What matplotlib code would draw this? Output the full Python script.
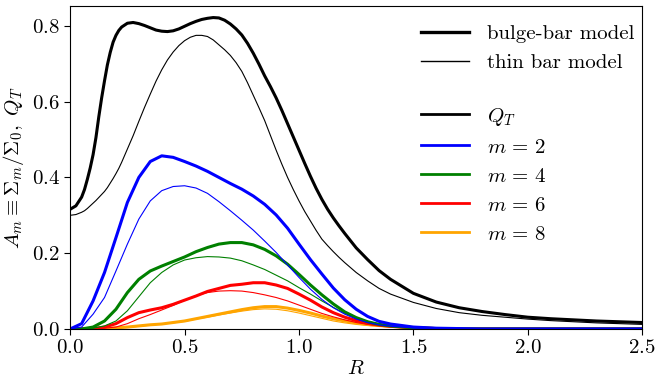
import matplotlib
matplotlib.use("Agg")
import matplotlib.pyplot as plt
from matplotlib.lines import Line2D

plt.rcParams.update({
    "font.family": "serif",
    "font.serif": ["cmr10", "DejaVu Serif"],
    "mathtext.fontset": "cm",
    "axes.formatter.use_mathtext": True,
    "axes.unicode_minus": False,
    "font.size": 15,
})

# ---- data ----
R_q = [0.0, 0.025, 0.05, 0.0625, 0.075, 0.0875, 0.1, 0.1125, 0.125, 0.1375, 0.15, 0.1625,
       0.175, 0.1875, 0.2, 0.2125, 0.225, 0.25, 0.275,
       0.3, 0.325, 0.35, 0.375, 0.4, 0.425, 0.45, 0.475, 0.5, 0.525, 0.55, 0.575, 0.6, 0.625,
       0.65, 0.675, 0.7, 0.725, 0.75, 0.775, 0.8, 0.825, 0.85, 0.875, 0.9, 0.925, 0.95, 0.975,
       1.0, 1.025, 1.05, 1.075, 1.1, 1.125, 1.15, 1.175, 1.2, 1.25, 1.3, 1.35, 1.4, 1.5, 1.6,
       1.7, 1.8, 1.9, 2.0, 2.1, 2.2, 2.3, 2.4, 2.5]
QT_bulge = [0.316, 0.325, 0.348, 0.368, 0.395, 0.425, 0.46, 0.505, 0.56, 0.61, 0.655, 0.697,
            0.73, 0.757, 0.775, 0.788, 0.797, 0.807, 0.809,
            0.806, 0.801, 0.795, 0.789, 0.786, 0.785, 0.787, 0.792, 0.799, 0.806, 0.812, 0.817, 0.82, 0.822,
            0.821, 0.815, 0.805, 0.792, 0.776, 0.754, 0.728, 0.699, 0.668, 0.64, 0.61, 0.577, 0.542, 0.507,
            0.472, 0.437, 0.403, 0.371, 0.342, 0.316, 0.293, 0.272, 0.252, 0.214, 0.183, 0.154, 0.131, 0.094, 0.071,
            0.056, 0.046, 0.038, 0.031, 0.027, 0.024, 0.021, 0.019, 0.017]
QT_thin = [0.30, 0.302, 0.308, 0.312, 0.318, 0.325, 0.332, 0.339, 0.347, 0.355, 0.363, 0.373,
           0.385, 0.397, 0.41, 0.424, 0.44, 0.475, 0.51,
           0.548, 0.585, 0.62, 0.654, 0.684, 0.71, 0.731, 0.748, 0.761, 0.77, 0.775, 0.775, 0.772, 0.763,
           0.75, 0.737, 0.722, 0.703, 0.68, 0.65, 0.617, 0.584, 0.55, 0.511, 0.472, 0.435, 0.40, 0.368,
           0.338, 0.31, 0.285, 0.26, 0.237, 0.22, 0.204, 0.189, 0.175, 0.149, 0.127, 0.107, 0.092, 0.07, 0.054,
           0.043, 0.036, 0.031, 0.026, 0.022, 0.019, 0.016, 0.014, 0.012]

R_a = [0.0, 0.05, 0.1, 0.15, 0.2, 0.25, 0.3, 0.35, 0.4, 0.45, 0.5, 0.55, 0.6, 0.65, 0.7,
       0.75, 0.8, 0.85, 0.9, 0.95, 1.0, 1.05, 1.1, 1.15, 1.2, 1.25, 1.3, 1.35, 1.4,
       1.5, 1.6, 1.7, 1.8, 2.0, 2.5]
A2_bulge = [0.0, 0.014, 0.074, 0.149, 0.241, 0.334, 0.40, 0.442, 0.457, 0.453, 0.442, 0.43, 0.416, 0.40, 0.384,
            0.369, 0.351, 0.329, 0.301, 0.266, 0.224, 0.183, 0.145, 0.108, 0.077, 0.052, 0.033, 0.02, 0.013,
            0.005, 0.002, 0.001, 0.0, 0.0, 0.0]
A2_thin = [0.0, 0.005, 0.039, 0.083, 0.153, 0.224, 0.29, 0.338, 0.365, 0.376, 0.378, 0.372, 0.358, 0.336, 0.312,
           0.287, 0.261, 0.232, 0.202, 0.169, 0.136, 0.105, 0.078, 0.056, 0.039, 0.026, 0.017, 0.011, 0.007,
           0.003, 0.001, 0.0, 0.0, 0.0, 0.0]
A4_bulge = [0.0, 0.0, 0.005, 0.021, 0.052, 0.096, 0.131, 0.153, 0.166, 0.178, 0.19, 0.204, 0.215, 0.224, 0.228,
            0.228, 0.222, 0.21, 0.193, 0.171, 0.144, 0.116, 0.09, 0.066, 0.045, 0.03, 0.019, 0.012, 0.008,
            0.003, 0.001, 0.0, 0.0, 0.0, 0.0]
A4_thin = [0.0, 0.0, 0.002, 0.008, 0.021, 0.048, 0.085, 0.122, 0.149, 0.169, 0.182, 0.188, 0.191, 0.19, 0.187,
           0.18, 0.169, 0.157, 0.142, 0.127, 0.109, 0.092, 0.074, 0.057, 0.041, 0.029, 0.02, 0.013, 0.009,
           0.004, 0.001, 0.0, 0.0, 0.0, 0.0]
A6_bulge = [0.0, 0.0, 0.001, 0.005, 0.014, 0.03, 0.043, 0.05, 0.056, 0.065, 0.076, 0.087, 0.099, 0.107, 0.115,
            0.118, 0.122, 0.122, 0.116, 0.107, 0.092, 0.076, 0.058, 0.043, 0.031, 0.022, 0.015, 0.01, 0.007,
            0.003, 0.001, 0.0, 0.0, 0.0, 0.0]
A6_thin = [0.0, 0.0, 0.0, 0.002, 0.005, 0.014, 0.027, 0.038, 0.05, 0.062, 0.076, 0.088, 0.096, 0.10, 0.101,
           0.10, 0.096, 0.09, 0.083, 0.074, 0.063, 0.052, 0.041, 0.032, 0.024, 0.017, 0.012, 0.009, 0.006,
           0.002, 0.001, 0.0, 0.0, 0.0, 0.0]
A8_bulge = [0.0, 0.0, 0.0005, 0.001, 0.003, 0.005, 0.008, 0.011, 0.013, 0.017, 0.021, 0.027, 0.033, 0.039, 0.045,
            0.051, 0.056, 0.059, 0.059, 0.055, 0.049, 0.042, 0.034, 0.027, 0.021, 0.016, 0.012, 0.009, 0.007,
            0.003, 0.001, 0.0, 0.0, 0.0, 0.0]
A8_thin = [0.0, 0.0, 0.0, 0.001, 0.002, 0.004, 0.007, 0.01, 0.013, 0.016, 0.02, 0.026, 0.031, 0.037, 0.042,
           0.047, 0.051, 0.053, 0.052, 0.048, 0.042, 0.035, 0.028, 0.021, 0.016, 0.012, 0.009, 0.007, 0.005,
           0.002, 0.001, 0.0, 0.0, 0.0, 0.0]

series_labels = [r"$Q_T$", r"$m\,=\,2$", r"$m\,=\,4$", r"$m\,=\,6$", r"$m\,=\,8$"]
series_colors = ["black", "blue", "green", "red", "orange"]
model_labels = ["bulge-bar model", "thin bar model"]

LW_THICK = 2.2
LW_THIN = 0.8

fig = plt.figure(figsize=(6.56, 3.87), dpi=100)
ax = fig.add_axes([0.107, 0.150, 0.872, 0.834])

bulge = [A8_bulge, A6_bulge, A4_bulge, A2_bulge]
thin = [A8_thin, A6_thin, A4_thin, A2_thin]
cols = ["orange", "red", "green", "blue"]
kw = dict(solid_joinstyle="round", solid_capstyle="round")
for yb, yt, c in zip(bulge, thin, cols):
    ax.plot(R_a, yt, color=c, lw=LW_THIN, **kw)
    ax.plot(R_a, yb, color=c, lw=LW_THICK, **kw)
ax.plot(R_q, QT_thin, color="black", lw=LW_THIN, **kw)
ax.plot(R_q, QT_bulge, color="black", lw=LW_THICK, **kw)

ax.set_xlim(0, 2.5)
ax.set_ylim(0, 0.852)
ax.set_xticks([0.0, 0.5, 1.0, 1.5, 2.0, 2.5])
ax.set_yticks([0.0, 0.2, 0.4, 0.6, 0.8])
ax.tick_params(labelsize=15, length=4, width=0.8)
ax.set_xlabel(r"$R$", fontsize=15, labelpad=2)
ax.set_ylabel(r"$A_m \equiv \Sigma_m/\Sigma_0,\ Q_T$", fontsize=15, labelpad=4)

h1 = [Line2D([], [], color="black", lw=2.4), Line2D([], [], color="black", lw=1.0)]
leg1 = ax.legend(h1, model_labels, loc="upper left", bbox_to_anchor=(0.6136, 0.943),
                 borderpad=0, borderaxespad=0, frameon=False, fontsize=15,
                 handlelength=2.3, handletextpad=0.85, labelspacing=0.5)
ax.add_artist(leg1)
h2 = [Line2D([], [], color=c, lw=2.0) for c in series_colors]
ax.legend(h2, series_labels, loc="upper left", bbox_to_anchor=(0.6136, 0.692),
          borderpad=0, borderaxespad=0, frameon=False, fontsize=15,
          handlelength=2.3, handletextpad=0.85, labelspacing=0.5)

fig.savefig("out.png", dpi=100)
